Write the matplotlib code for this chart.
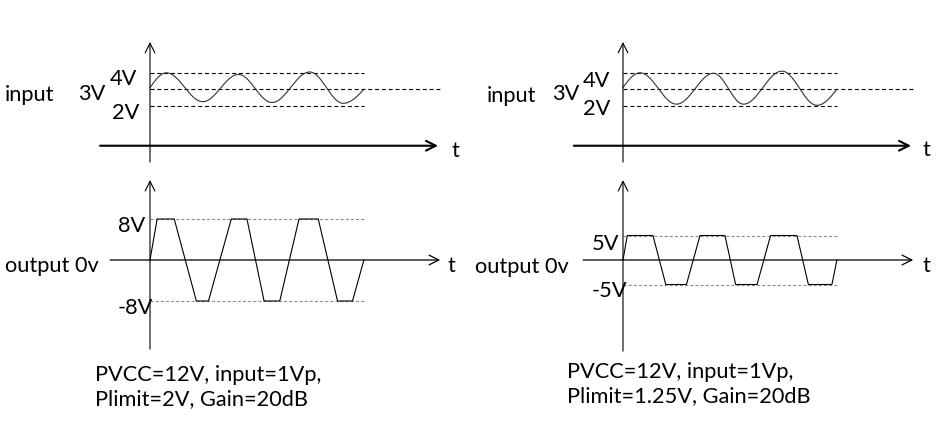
import numpy as np
import matplotlib.pyplot as plt

plt.rcParams['font.family'] = ['Lato', 'DejaVu Sans']
plt.rcParams['lines.scale_dashes'] = False

# input waveforms: extremum times (in periods) and levels in V
left_in_t = [0, 0.23, 0.74, 1.24, 1.71, 2.24, 2.71, 3.0]
left_in_v = [3.1, 4.0, 2.25, 3.9, 2.2, 4.05, 2.15, 3.0]
right_in_t = [0, 0.24, 0.75, 1.27, 1.69, 2.23, 2.72, 3.0]
right_in_v = [3.12, 4.0, 2.1, 3.97, 2.1, 4.1, 2.03, 3.0]
in_levels = [2, 3, 4]
in_labels = ["2V", "3V", "4V"]

# clipped outputs: corner points
left_out_t = [0, 0.10, 0.34, 0.65, 0.82, 1.14, 1.36, 1.60, 1.82, 2.09, 2.36, 2.63, 2.84, 3.0]
left_out_v = [0, 8, 8, -8, -8, 8, 8, -8, -8, 8, 8, -8, -8, 0]
right_out_t = [0, 0.06, 0.42, 0.60, 0.89, 1.08, 1.43, 1.58, 1.88, 2.07, 2.44, 2.60, 2.93, 3.0]
right_out_v = [0, 5, 5, -5, -5, 5, 5, -5, -5, 5, 5, -5, -5, 0]
left_clip = 8
right_clip = 5

left_note = "PVCC=12V, input=1Vp,\nPlimit=2V, Gain=20dB"
right_note = "PVCC=12V, input=1Vp,\nPlimit=1.25V, Gain=20dB"

W, H = 953, 425
fig = plt.figure(figsize=(W / 100, H / 100), dpi=100)
FS = 15.7


def panel(x0, y0, xs, ys, v0):
    # transparent axes over the whole figure, origin at pixel (x0, y0)
    ax = fig.add_axes([0, 0, 1, 1])
    ax.set_xlim(-x0 / xs, (W - x0) / xs)
    ax.set_ylim(v0 - (H - y0) / ys, v0 + y0 / ys)
    ax.axis('off')
    ax.patch.set_alpha(0)
    return ax


def arrow(ax, x0, y0, x1, y1, lw):
    ax.annotate('', xy=(x1, y1), xytext=(x0, y0),
                arrowprops=dict(arrowstyle='->,head_length=0.7,head_width=0.35',
                                lw=lw, color='black', shrinkA=0, shrinkB=0))


def smooth(t, v, n=30):
    # sine-like shape between the read extrema
    xs, ys = [], []
    last = len(t) - 2
    for i in range(len(t) - 1):
        s = np.linspace(0, 1, n)
        if i == 0:
            f = np.sin(np.pi / 2 * s)
        elif i == last:
            f = 1 - np.cos(np.pi / 2 * s)
        else:
            f = (1 - np.cos(np.pi * s)) / 2
        xs.append(t[i] + (t[i + 1] - t[i]) * s)
        ys.append(v[i] + (v[i + 1] - v[i]) * f)
    return np.concatenate(xs), np.concatenate(ys)


def label(px, py, s):
    fig.text(px / W, 1 - py / H, s, fontsize=FS, ha='left', va='baseline')


# top panels (input)
for x0, t, v, xl in [(150, left_in_t, left_in_v, -0.70), (623, right_in_t, right_in_v, -0.69)]:
    ax = panel(x0, 89.3, 71.3, 16.5, 3)
    arrow(ax, 0, -1.41, 0, 5.87, 0.8)
    arrow(ax, xl, -0.42, 4.04, -0.42, 1.5)
    ax.hlines([in_levels[0], in_levels[2]], 0, t[-1], color='black', lw=0.8, linestyles=[(0, (2.9, 2.0))])
    ax.hlines(in_levels[1], 0, 4.08, color='black', lw=0.8, linestyles=[(0, (2.9, 2.0))])
    wx, wy = smooth(t, v)
    ax.plot(wx, wy, color='#333333', lw=0.8)

# bottom panels (output)
for x0, ys, t, v, clip, vb, vt in [(150, 5.125, left_out_t, left_out_v, left_clip, -17.4, 15.6),
                                   (623, 4.9, right_out_t, right_out_v, right_clip, -18.6, 16.3)]:
    ax = panel(x0, 260, 71.3, ys, 0)
    arrow(ax, 0, vb, 0, vt, 0.8)
    arrow(ax, -0.56, 0, 4.07, 0, 0.9)
    ax.hlines([clip, -clip], 0, t[-1], color='#8c8c8c', lw=0.8, linestyles=[(0, (2.2, 1.5))])
    ax.plot(t, v, color='black', lw=0.8)

# labels, left side
label(5, 101, "input")
label(78, 100, in_labels[1])
label(110, 85, in_labels[2])
label(112, 119, in_labels[0])
label(452, 157, "t")
label(5, 272, "output 0v")
label(118, 232, "%dV" % left_clip)
label(118, 314, "-%dV" % left_clip)
label(448, 272, "t")
fig.text(95 / W, 1 - 405 / H, left_note, fontsize=FS, ha='left', va='baseline', linespacing=1.25)

# labels, right side
label(487, 102, "input")
label(552, 100, in_labels[1])
label(583, 87, in_labels[2])
label(583, 115, in_labels[0])
label(923, 156, "t")
label(475, 273, "output 0v")
label(592, 250, "%dV" % right_clip)
label(592, 297, "-%dV" % right_clip)
label(923, 272, "t")
fig.text(567 / W, 1 - 402 / H, right_note, fontsize=FS, ha='left', va='baseline', linespacing=1.25)

fig.savefig("out.png", dpi=100)
